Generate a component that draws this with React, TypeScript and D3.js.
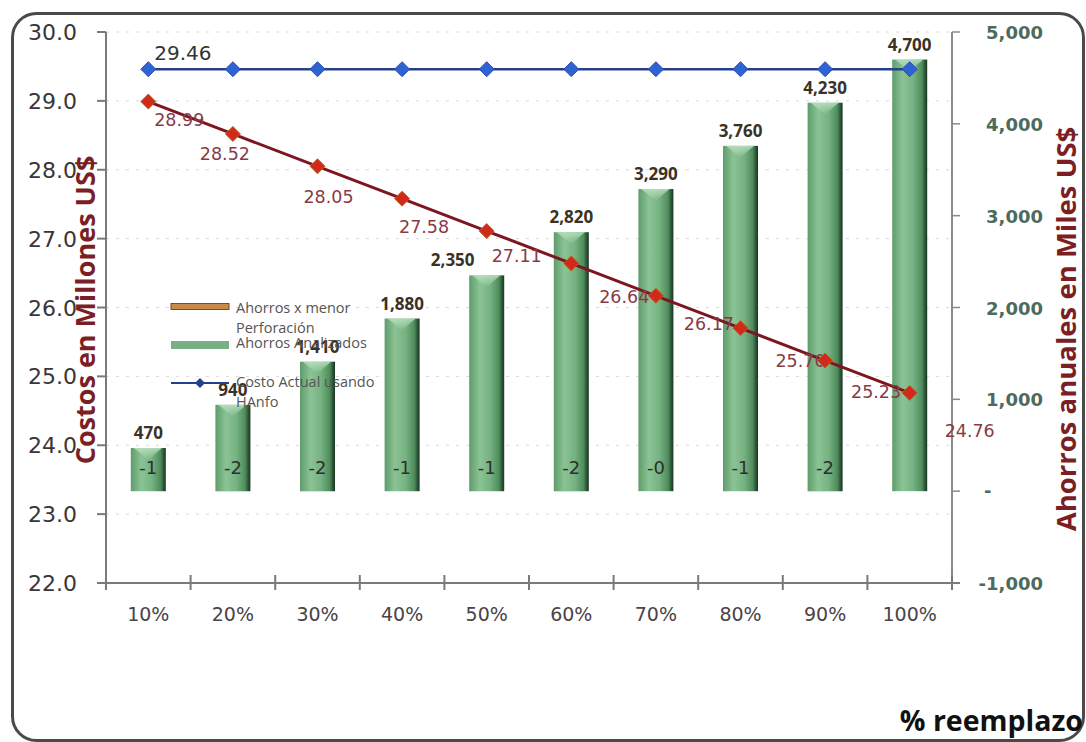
import React from "react";
import * as d3 from "d3";

// Replacement percentage categories
const categories = ["10%", "20%", "30%", "40%", "50%", "60%", "70%", "80%", "90%", "100%"];

// Annual savings analysed (thousand US$) – right axis, bars
const ahorrosAnalizados = [470, 940, 1410, 1880, 2350, 2820, 3290, 3760, 4230, 4700];

// Savings from reduced drilling (thousand US$) – right axis, tiny bars
const ahorrosPerforacion: (number | null)[] = [-1, -2, -2, -1, -1, -2, -0.4, -1, -2, null];

// Current cost using HAnfo (million US$) – left axis
const costoActual = [29.46, 29.46, 29.46, 29.46, 29.46, 29.46, 29.46, 29.46, 29.46, 29.46];

// Cost with replacement (million US$) – left axis
const costoReemplazo = [28.99, 28.52, 28.05, 27.58, 27.11, 26.64, 26.17, 25.7, 25.23, 24.76];

const leftTicks = [22, 23, 24, 25, 26, 27, 28, 29, 30];
const rightTicks = [-1000, 0, 1000, 2000, 3000, 4000, 5000];

// Label placement relative to each red marker
const redLabelOffsets: [number, number][] = [
  [31, 18], [-8, 20], [11, 31], [22, 28], [30, 25],
  [53, 34], [53, 28], [60, 33], [51, 31], [60, 38],
];

// Horizontal nudge of bar value labels (keeps 2,350 clear of the red label)
const barLabelShift = [0, 0, 0, 0, -34, 0, 0, 0, 0, 0];

const W = 1086;
const H = 742;
const plot = { left: 106, right: 952, top: 32, bottom: 583 };

const SANS = "'DejaVu Sans', sans-serif";
const OPEN = "'Open Sans', 'Noto Sans', sans-serif";

const locale = d3.formatLocale({ decimal: ".", thousands: ",", grouping: [3], currency: ["$", ""], minus: "-" });

export default function App() {
  const x = d3.scaleBand<string>().domain(categories).range([plot.left, plot.right]).padding(0);
  const yL = d3.scaleLinear().domain([22, 30]).range([plot.bottom, plot.top]);
  const yR = d3.scaleLinear().domain([-1000, 5000]).range([plot.bottom, plot.top]);
  const cx = (c: string) => (x(c) ?? 0) + x.bandwidth() / 2;
  const barW = 35;

  const fmtThousands = locale.format(",.0f");
  const fmt2 = locale.format(".2f");
  const fmtInt = (v: number) => {
    const r = Math.round(v);
    return (v < 0 ? "-" : "") + Math.abs(r).toString();
  };

  const line = d3
    .line<number>()
    .x((_, i) => cx(categories[i]))
    .y((d) => yL(d));

  const diamond = (px: number, py: number, r: number) =>
    `M${px},${py - r}L${px + r},${py}L${px},${py + r}L${px - r},${py}Z`;

  const boundaries = d3.range(categories.length + 1).map((i) => plot.left + i * x.bandwidth());

  return (
    <svg
      width={W}
      height={H}
      style={{ position: "absolute", left: 0, top: 0, background: "#fff" }}
    >
      <defs>
        <linearGradient id="barGrad" x1="0" x2="1" y1="0" y2="0">
          <stop offset="0%" stopColor="#5f9c6b" />
          <stop offset="30%" stopColor="#8bc395" />
          <stop offset="60%" stopColor="#76b282" />
          <stop offset="85%" stopColor="#4f8c5c" />
          <stop offset="93%" stopColor="#2e5a39" />
          <stop offset="100%" stopColor="#1b3322" />
        </linearGradient>
        <linearGradient id="topGrad" x1="0" x2="0" y1="0" y2="1">
          <stop offset="0%" stopColor="#b9e0bf" stopOpacity="0.9" />
          <stop offset="100%" stopColor="#b9e0bf" stopOpacity="0" />
        </linearGradient>
      </defs>

      {/* outer rounded frame */}
      <rect x={12.5} y={13.5} width={1071} height={727} rx={24} ry={24} fill="none" stroke="#4a4a4a" strokeWidth={3} />

      {/* faint gridlines */}
      {leftTicks.slice(1).map((t) => (
        <line
          key={"g" + t}
          x1={plot.left}
          x2={plot.right}
          y1={yL(t)}
          y2={yL(t)}
          stroke="#d9d9d9"
          strokeWidth={1}
          strokeDasharray="3 7"
        />
      ))}

      {/* bars: Ahorros Analizados */}
      {ahorrosAnalizados.map((v, i) => {
        const c = categories[i];
        const x0 = cx(c) - barW / 2;
        const top = yR(v);
        const base = yR(0);
        return (
          <g key={"b" + c}>
            <rect x={x0} y={top} width={barW} height={base - top} fill="url(#barGrad)" />
            <path
              d={`M${x0 + 3},${top}L${x0 + barW - 4},${top}L${x0 + barW / 2},${top + 12}Z`}
              fill="url(#topGrad)"
            />
            <text
              x={cx(c) + barLabelShift[i]}
              y={top - 9}
              textAnchor="middle"
              fontFamily={OPEN}
              fontWeight={700}
              fontSize={17}
              fill="#3a3224"
            >
              {fmtThousands(v)}
            </text>
          </g>
        );
      })}

      {/* bars: Ahorros x menor Perforación */}
      {ahorrosPerforacion.map((v, i) => {
        if (v === null) return null;
        const c = categories[i];
        const y0 = yR(0);
        const y1 = yR(v);
        return (
          <g key={"p" + c}>
            <rect x={cx(c) - barW / 2} y={Math.min(y0, y1)} width={barW} height={Math.abs(y1 - y0)} fill="#c8894a" />
            <text
              x={cx(c)}
              y={y0 - 17}
              textAnchor="middle"
              fontFamily={SANS}
              fontSize={18}
              fill="#2e2e2e"
            >
              {fmtInt(v)}
            </text>
          </g>
        );
      })}

      {/* left axis */}
      <line x1={plot.left} x2={plot.left} y1={plot.top} y2={plot.bottom} stroke="#7a7a7a" strokeWidth={2} />
      {leftTicks.map((t) => (
        <g key={"l" + t}>
          <line x1={plot.left - 9} x2={plot.left} y1={yL(t)} y2={yL(t)} stroke="#7a7a7a" strokeWidth={2} />
          <text
            x={77}
            y={yL(t) + 8}
            textAnchor="end"
            fontFamily={SANS}
            fontSize={22}
            fill="#3b3538"
          >
            {t.toFixed(1)}
          </text>
        </g>
      ))}

      {/* right axis */}
      <line x1={plot.right} x2={plot.right} y1={plot.top} y2={plot.bottom} stroke="#8a8a8a" strokeWidth={2} />
      {rightTicks.map((t) => (
        <g key={"r" + t}>
          <line x1={plot.right} x2={plot.right + 8} y1={yR(t)} y2={yR(t)} stroke="#8a8a8a" strokeWidth={1.5} />
          {t === 0 ? (
            <text x={984} y={yR(t) + 6} fontFamily={SANS} fontWeight={700} fontSize={18} fill="#4d6b5c">
              -
            </text>
          ) : (
            <text
              x={1043}
              y={yR(t) + 7}
              textAnchor="end"
              fontFamily={SANS}
              fontWeight={700}
              fontSize={18}
              fill="#4d6b5c"
            >
              {fmtThousands(t)}
            </text>
          )}
        </g>
      ))}

      {/* x axis */}
      <line x1={plot.left - 9} x2={plot.right + 8} y1={plot.bottom} y2={plot.bottom} stroke="#7a7a7a" strokeWidth={2} />
      {boundaries.map((b, i) => (
        <line key={"t" + i} x1={b} x2={b} y1={plot.bottom - 8} y2={plot.bottom + 7} stroke="#7a7a7a" strokeWidth={2} />
      ))}
      {categories.map((c) => (
        <text
          key={"x" + c}
          x={cx(c)}
          y={621}
          textAnchor="middle"
          fontFamily={SANS}
          fontSize={19}
          fill="#4a4347"
        >
          {c}
        </text>
      ))}

      {/* blue line: Costo Actual usando HAnfo */}
      <path d={line(costoActual) ?? ""} fill="none" stroke="#27408b" strokeWidth={2.5} />
      {costoActual.map((v, i) => (
        <path key={"bd" + i} d={diamond(cx(categories[i]), yL(v), 7.5)} fill="#2f62d2" stroke="#2850b0" strokeWidth={1} />
      ))}
      <text x={cx(categories[0]) + 6} y={yL(costoActual[0]) - 9} fontFamily={SANS} fontSize={20} fill="#333">
        {fmt2(costoActual[0])}
      </text>

      {/* red line: cost with replacement */}
      <path d={line(costoReemplazo) ?? ""} fill="none" stroke="#7d1620" strokeWidth={3} />
      {costoReemplazo.map((v, i) => {
        const px = cx(categories[i]);
        const py = yL(v);
        const [dx, dy] = redLabelOffsets[i];
        return (
          <text
            key={"rl" + i}
            x={px + dx}
            y={py + dy + 6}
            textAnchor="middle"
            fontFamily={SANS}
            fontSize={17.5}
            fill="#8a3a45"
          >
            {fmt2(v)}
          </text>
        );
      })}
      {costoReemplazo.map((v, i) => (
        <path key={"rd" + i} d={diamond(cx(categories[i]), yL(v), 7.5)} fill="#d12a1c" stroke="#b5651a" strokeWidth={1} />
      ))}

      {/* legend */}
      <g fontFamily={OPEN} fontSize={14.5} fill="#555">
        <rect x={171} y={303.5} width={58} height={6} fill="#c8894a" stroke="#7a4d22" strokeWidth={1} />
        <text x={236} y={313}>Ahorros x menor</text>
        <text x={236} y={333}>Perforación</text>
        <rect x={171} y={341} width={58} height={8} fill="#7aae84" />
        <text x={236} y={348}>Ahorros Analizados</text>
        <line x1={171} x2={229} y1={383} y2={383} stroke="#27408b" strokeWidth={2} />
        <path d={diamond(200, 383, 5)} fill="#27408b" />
        <text x={236} y={387}>Costo Actual usando</text>
        <text x={236} y={407}>HAnfo</text>
      </g>

      {/* axis titles */}
      <text
        transform={`translate(95, 310) rotate(-90)`}
        textAnchor="middle"
        fontFamily={OPEN}
        fontWeight={700}
        fontSize={27}
        fill="#7b1f24"
      >
        Costos en Millones US$
      </text>
      <text
        transform={`translate(1076, 329) rotate(-90)`}
        textAnchor="middle"
        fontFamily={OPEN}
        fontWeight={700}
        fontSize={27.5}
        fill="#7b1f24"
      >
        Ahorros anuales en Miles US$
      </text>
      <text x={1083} y={731} textAnchor="end" fontFamily={OPEN} fontWeight={700} fontSize={28.5} fill="#111">
        % reemplazo
      </text>
    </svg>
  );
}
